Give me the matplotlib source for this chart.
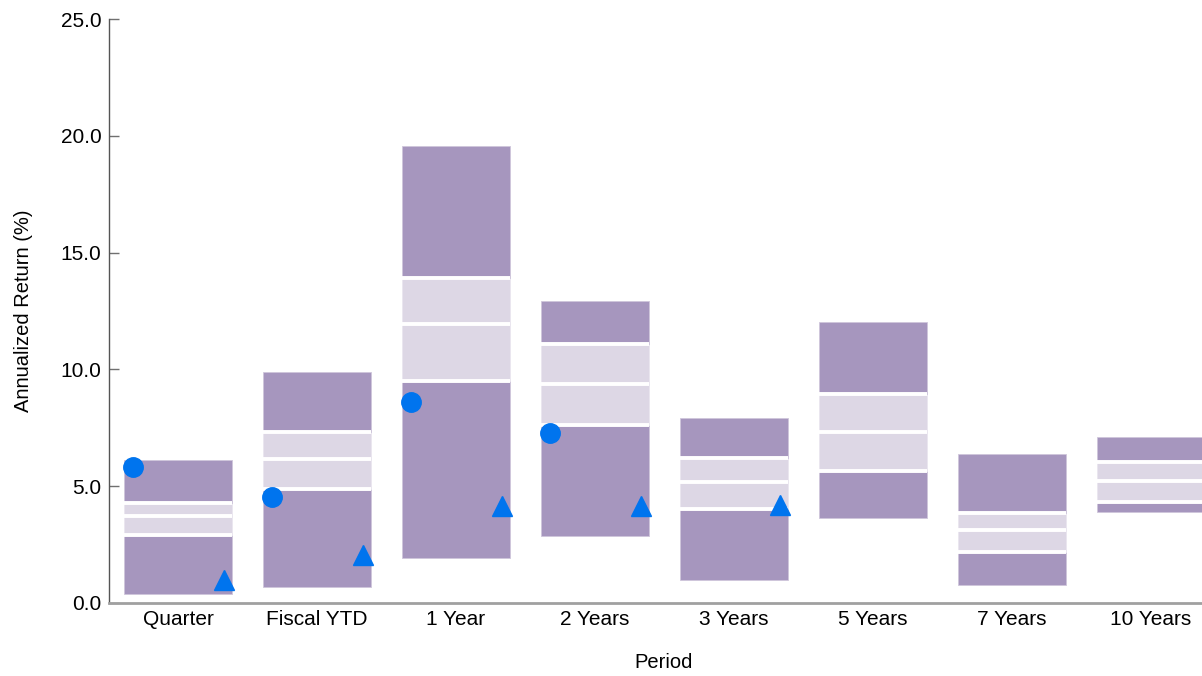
import numpy as np
import matplotlib
matplotlib.use("Agg")
import matplotlib.pyplot as plt

plt.rcParams['font.family'] = ['Liberation Sans', 'DejaVu Sans']

categories = ["Quarter", "Fiscal YTD", "1 Year", "2 Years", "3 Years", "5 Years", "7 Years", "10 Years"]
p95 = [6.12, 9.89, 19.56, 12.93, 7.92, 12.04, 6.36, 7.11]
p75 = [4.28, 7.32, 13.91, 11.09, 6.21, 8.95, 3.85, 6.04]
p50 = [3.72, 6.16, 11.93, 9.38, 5.17, 7.31, 3.14, 5.24]
p25 = [2.91, 4.88, 9.50, 7.62, 4.02, 5.64, 2.20, 4.32]
p05 = [0.39, 0.68, 1.93, 2.87, 0.98, 3.64, 0.78, 3.91]
portfolio = [5.82, 4.54, 8.60, 7.28, np.nan, np.nan, np.nan, np.nan]
benchmark = [0.98, 2.05, 4.15, 4.15, 4.19, np.nan, np.nan, np.nan]
yticks = [0, 5, 10, 15, 20, 25]

dark = '#A696BE'
light = '#DDD7E5'
blue = '#0074EE'

W, H = 1202, 676
fig = plt.figure(figsize=(W / 100, H / 100), dpi=100)
ax = fig.add_axes([108.5 / W, (H - 603) / H, 1112 / W, 584 / H])

x = np.arange(len(categories))
bw = 0.78
p95a, p75a, p50a, p25a, p05a = map(np.array, (p95, p75, p50, p25, p05))
ax.bar(x, p25a - p05a, bottom=p05a, width=bw, color=dark, edgecolor='#CFC6DB', linewidth=0.6, zorder=2)
ax.bar(x, p50a - p25a, bottom=p25a, width=bw, color=light, edgecolor='#EAE6EF', linewidth=0.6, zorder=2)
ax.bar(x, p75a - p50a, bottom=p50a, width=bw, color=light, edgecolor='#EAE6EF', linewidth=0.6, zorder=2)
ax.bar(x, p95a - p75a, bottom=p75a, width=bw, color=dark, edgecolor='#CFC6DB', linewidth=0.6, zorder=2)
for arr in (p25a, p50a, p75a):
    ax.hlines(arr, x - bw / 2, x + bw / 2, colors='white', linewidth=2.8, zorder=3)

ax.plot(x - 0.325, portfolio, 'o', color=blue, markersize=14, linestyle='none', zorder=4)
ax.plot(x + 0.33, benchmark, '^', color=blue, markersize=14.5, linestyle='none', zorder=4)

ax.set_xlim(-0.5, 7.5)
ax.set_ylim(0, 25)
ax.set_yticks(yticks)
ax.set_yticklabels([f"{v:.1f}" for v in yticks], fontsize=15)
ax.set_xticks(x)
ax.set_xticklabels(categories, fontsize=15)
ax.tick_params(axis='x', length=0, pad=5)
ax.tick_params(axis='y', direction='in', length=7, color='#707070', width=1, pad=5)

for s in ('top', 'right'):
    ax.spines[s].set_visible(False)
ax.spines['left'].set_color('#555555')
ax.spines['left'].set_linewidth(1)
ax.spines['bottom'].set_color('#A0A0A0')
ax.spines['bottom'].set_linewidth(2)

ax.set_ylabel("Annualized Return (%)", fontsize=14.5)
ax.set_xlabel("Period", fontsize=14.5)
ax.yaxis.set_label_coords(-75 / 1112, 0.5)
ax.xaxis.set_label_coords((664 - 108.5) / 1112, -50 / 584)

fig.savefig("out.png", dpi=100)
